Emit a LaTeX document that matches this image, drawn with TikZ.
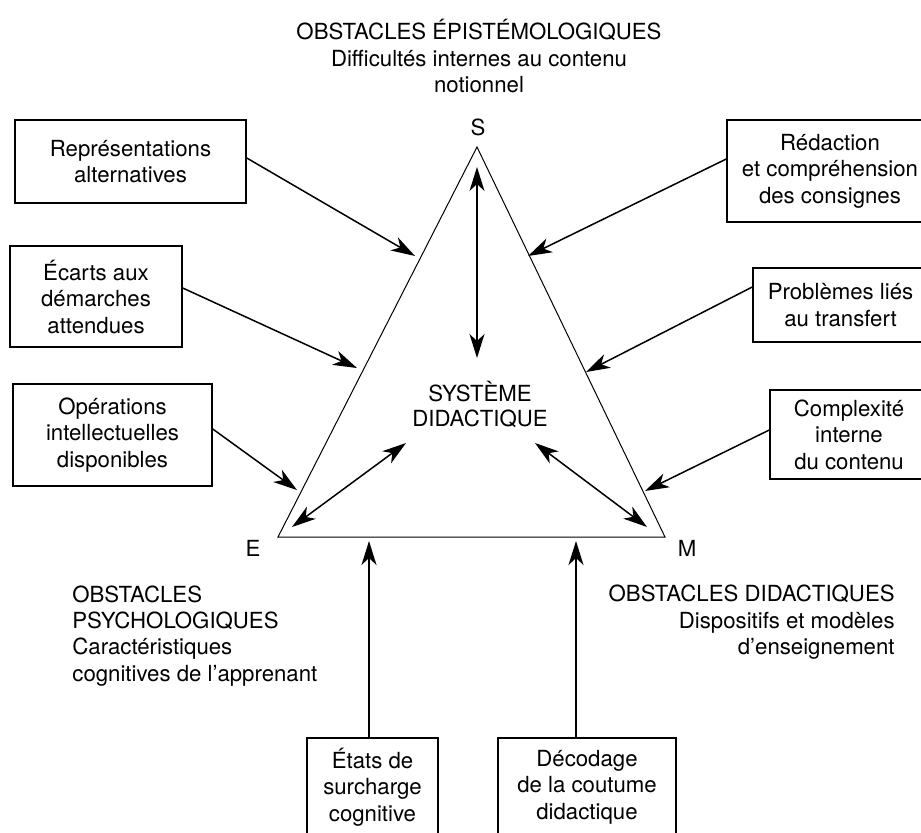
\documentclass[tikz,border=0pt]{standalone}
\usepackage{fontspec}
\setmainfont{TeX Gyre Heros}
\usetikzlibrary{arrows.meta}

\tikzset{
  txt/.style={font=\fontsize{11.1}{13.25}\selectfont, inner sep=0pt},
  boite/.style={txt, draw, line width=0.75pt, rectangle, align=center},
  fleche/.style={line width=0.75pt, -{Stealth[length=12pt,width=7.5pt,inset=3.5pt]}},
  dfleche/.style={line width=0.75pt, {Stealth[length=12pt,width=7.5pt,inset=3.5pt]}-{Stealth[length=12pt,width=7.5pt,inset=3.5pt]}},
  cote/.style={line width=0.5pt}
}

\begin{document}
\begin{tikzpicture}[x=0.5pt, y=-0.5pt]
    \useasboundingbox (0, 0) rectangle (921, 832);

    % triangle S E M
    \coordinate (S) at (477, 147);
    \coordinate (E) at (278, 537);
    \coordinate (M) at (665, 537);
    \draw [cote] (S) -- (E) -- (M) -- cycle;
    \node [txt] (sl) at (478, 127) {S};
    \node [txt] (el) at (253, 548) {E};
    \node [txt] (ml) at (687, 548) {M};

    \node [txt, align=center, anchor=north] (epis) at (479, 19)
      {OBSTACLES ÉPISTÉMOLOGIQUES\\Difficultés internes au contenu\\notionnel};
    \node [txt, align=center, anchor=north, font=\fontsize{11.1}{12.5}\selectfont] (sys) at (480, 381) {SYSTÈME\\DIDACTIQUE};
    \node [txt, align=left, anchor=north west] (psy) at (72, 585)
      {OBSTACLES\\PSYCHOLOGIQUES\\Caractéristiques\\cognitives de l’apprenant};
    \node [txt, align=right, anchor=north east] (dida) at (895, 585)
      {OBSTACLES DIDACTIQUES\\Dispositifs et modèles\\d’enseignement};

    % boites
    \node [boite, minimum width=115.5pt, minimum height=41.5pt] (rep) at (130.5, 161.5) {Représentations\\alternatives};
    \node [boite, minimum width=86pt, minimum height=50.5pt] (eca) at (96, 296.5) {Écarts aux\\démarches\\attendues};
    \node [boite, minimum width=99.5pt, minimum height=51pt] (ope) at (112.5, 435) {Opérations\\intellectuelles\\disponibles};
    \node [boite, minimum width=103pt, minimum height=51pt] (red) at (830, 171) {Rédaction\\et compréhension\\des consignes};
    \node [boite, minimum width=87.5pt, minimum height=37pt] (pro) at (840.5, 305) {Problèmes liés\\au transfert};
    \node [boite, minimum width=79pt, minimum height=44.5pt] (com) at (849, 434.5) {Complexité\\interne\\du contenu};
    \node [boite, minimum width=65.5pt, minimum height=49pt] (eta) at (372.5, 787) {États de\\surcharge\\cognitive};
    \node [boite, minimum width=89pt, minimum height=49pt] (dec) at (587, 787) {Décodage\\de la coutume\\didactique};

    % points d'arrivee
    \coordinate (t1) at (415, 256);
    \coordinate (t2) at (357, 368);
    \coordinate (t3) at (297, 490);
    \coordinate (t4) at (528, 256);
    \coordinate (t5) at (586, 372);
    \coordinate (t6) at (645, 491);
    \coordinate (b1) at (369, 541);
    \coordinate (b2) at (576, 541);

    \draw [fleche] ([yshift=1.75pt]rep.east) -- (t1);
    \draw [fleche] ([yshift=4.25pt]eca.east) -- (t2);
    \draw [fleche] ([yshift=3pt]ope.east) -- (t3);
    \draw [fleche] ([yshift=6pt]red.west) -- (t4);
    \draw [fleche] ([yshift=9pt]pro.west) -- (t5);
    \draw [fleche] ([yshift=2.25pt]com.west) -- (t6);
    \draw [fleche] (eta.north -| b1) -- (b1);
    \draw [fleche] (dec.north -| b2) -- (b2);

    % relations internes
    \coordinate (s1) at (477, 167);
    \coordinate (s2) at (477, 358);
    \coordinate (e1) at (292, 527);
    \coordinate (e2) at (406, 443);
    \coordinate (m1) at (535, 443);
    \coordinate (m2) at (647, 527);
    \draw [dfleche] (s1) -- (s2);
    \draw [dfleche] (e1) -- (e2);
    \draw [dfleche] (m1) -- (m2);
  \end{tikzpicture}
\end{document}
